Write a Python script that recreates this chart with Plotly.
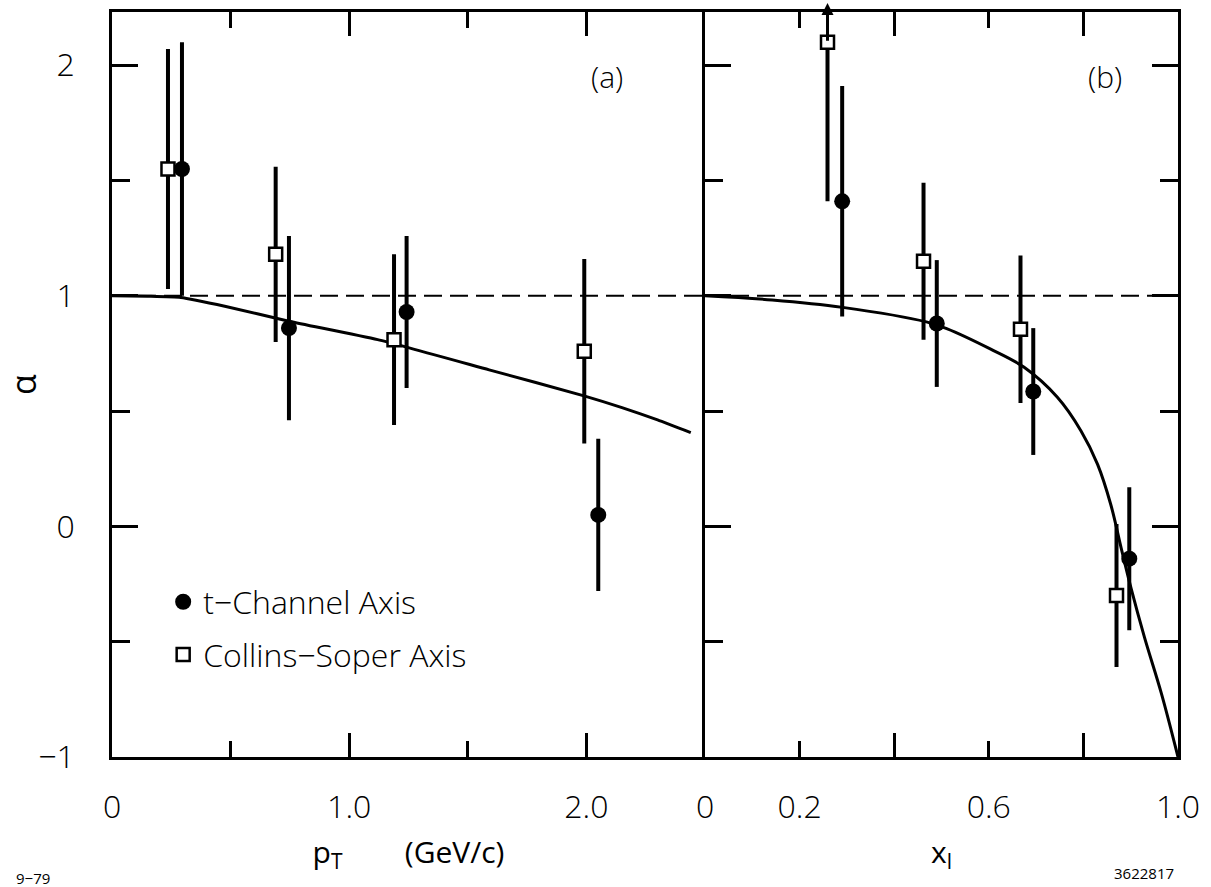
import plotly.graph_objects as go

# Panel (a): alpha versus p_T
pt_tch = [0.295, 0.746, 1.242, 2.050]
alpha_pt_tch = [1.55, 0.86, 0.93, 0.05]
err_pt_tch = [0.55, 0.40, 0.33, 0.33]

pt_cs = [0.236, 0.690, 1.189, 1.991]
alpha_pt_cs = [1.55, 1.18, 0.81, 0.76]
err_pt_cs = [0.52, 0.38, 0.37, 0.40]

# Panel (b): alpha versus x_1
x1_tch = [0.290, 0.490, 0.694, 0.897]
alpha_x1_tch = [1.41, 0.88, 0.585, -0.14]
err_x1_tch = [0.50, 0.275, 0.275, 0.31]

x1_cs = [0.259, 0.462, 0.667, 0.870]
alpha_x1_cs = [2.10, 1.15, 0.855, -0.30]
err_x1_cs_up = [0.0, 0.34, 0.32, 0.31]
err_x1_cs_down = [0.69, 0.34, 0.32, 0.31]
x1_cs_arrow_tip = 2.27  # upper error of the first point runs off scale

# Model predictions
pt_curve = [0.0, 0.15, 0.29, 0.48, 0.75, 1.12, 1.59, 1.99, 2.15, 2.30, 2.44]
alpha_pt_curve = [1.0, 0.998, 0.993, 0.954, 0.889, 0.81, 0.679, 0.566, 0.515, 0.462, 0.407]
x1_curve = [0.0, 0.142, 0.291, 0.468, 0.511, 0.603, 0.674, 0.745, 0.795,
            0.830, 0.858, 0.880, 0.901, 0.929, 0.965, 1.0]
alpha_x1_curve = [1.0, 0.982, 0.950, 0.887, 0.858, 0.770, 0.691, 0.560, 0.414,
                  0.269, 0.094, -0.095, -0.270, -0.480, -0.725, -1.0]

alpha_ref = 1.0
pt_range = [0.0, 2.5]
x1_range = [0.0, 1.0]
alpha_range = [-1.0, 2.231]

pt_ticks = [0, 1, 2]
pt_ticktext = ["0", "1.0", "2.0"]
x1_ticks = [0, 0.2, 0.6, 1.0]
x1_ticktext = ["0", "0.2", "0.6", "1.0"]
x1_long_ticks = [0.4, 0.8]
alpha_ticks = [-1, 0, 1, 2]
alpha_ticktext = ["\u22121", "0", "1", "2"]

FONT = "Open Sans"
INK = "black"

fig = go.Figure()

circle = dict(symbol="circle", size=16, color=INK)
square = dict(symbol="square", size=13, color="white", line=dict(color=INK, width=2.5))
err_style = dict(type="data", color=INK, thickness=4, width=0)

# reference line alpha = 1
for xr, xa, ya in [(pt_range, "x", "y"), (x1_range, "x2", "y2")]:
    fig.add_trace(go.Scatter(x=xr, y=[alpha_ref, alpha_ref], mode="lines",
                             line=dict(color=INK, width=2, dash="18px,8px"),
                             showlegend=False, hoverinfo="skip", xaxis=xa, yaxis=ya))

# model curves
fig.add_trace(go.Scatter(x=pt_curve, y=alpha_pt_curve, mode="lines",
                         line=dict(color=INK, width=3, shape="spline", smoothing=0.5),
                         showlegend=False, xaxis="x", yaxis="y"))
fig.add_trace(go.Scatter(x=x1_curve, y=alpha_x1_curve, mode="lines",
                         line=dict(color=INK, width=3, shape="spline", smoothing=1.0),
                         showlegend=False, xaxis="x2", yaxis="y2"))

# data, panel (a)
fig.add_trace(go.Scatter(x=pt_tch, y=alpha_pt_tch, mode="markers", name="t\u2212Channel Axis",
                         marker=circle, error_y=dict(array=err_pt_tch, **err_style),
                         legendgroup="t", xaxis="x", yaxis="y"))
fig.add_trace(go.Scatter(x=pt_cs, y=alpha_pt_cs, mode="markers", name="Collins\u2212Soper Axis",
                         marker=square, error_y=dict(array=err_pt_cs, **err_style),
                         legendgroup="cs", xaxis="x", yaxis="y"))

# data, panel (b)
fig.add_trace(go.Scatter(x=x1_tch, y=alpha_x1_tch, mode="markers", showlegend=False,
                         marker=circle, error_y=dict(array=err_x1_tch, **err_style),
                         legendgroup="t", xaxis="x2", yaxis="y2"))
fig.add_trace(go.Scatter(x=x1_cs, y=alpha_x1_cs, mode="markers", showlegend=False,
                         marker=square,
                         error_y=dict(array=err_x1_cs_up, arrayminus=err_x1_cs_down,
                                      symmetric=False, **err_style),
                         legendgroup="cs", xaxis="x2", yaxis="y2"))

split = (705 - 112) / (1178 - 112)

axis_common = dict(showline=True, linewidth=2.5, linecolor=INK, showgrid=False,
                   zeroline=False, ticks="inside", tickwidth=2.5, tickcolor=INK,
                   automargin=False,
                   tickfont=dict(family=FONT, size=32, color=INK, weight=300))
minor_common = dict(ticks="inside", tickwidth=2.5, tickcolor=INK)

fig.update_layout(
    width=1211, height=887,
    margin=dict(l=112, r=33, t=12, b=130),
    paper_bgcolor="white", plot_bgcolor="white",
    xaxis=dict(domain=[0, split], range=pt_range, anchor="y", mirror="ticks",
               tickmode="array", tickvals=pt_ticks, ticktext=pt_ticktext, ticklen=24,
               minor=dict(dtick=0.5, tick0=0, ticklen=16, **minor_common),
               ticklabelstandoff=20,
               title=dict(text="p<sub>T</sub>" + "\u00a0" * 8 + "(GeV/c)",
                          font=dict(family=FONT, size=30, color=INK), standoff=16),
               **axis_common),
    xaxis2=dict(domain=[split, 1], range=x1_range, anchor="y2", mirror="ticks",
                tickmode="array", tickvals=x1_ticks, ticktext=x1_ticktext, ticklen=16,
                minor=dict(tickmode="array", tickvals=x1_long_ticks, ticklen=24,
                           **minor_common),
                ticklabelstandoff=20,
                title=dict(text="x<sub>l</sub>",
                           font=dict(family=FONT, size=30, color=INK), standoff=16),
                **axis_common),
    yaxis=dict(domain=[0, 1], range=alpha_range, anchor="x", mirror=False,
               tickmode="array", tickvals=alpha_ticks, ticktext=alpha_ticktext,
               ticklen=26,
               minor=dict(dtick=0.5, tick0=0, ticklen=18, **minor_common),
               ticklabelstandoff=28,
               title=dict(text="\u03b1", font=dict(family=FONT, size=34, color=INK), standoff=24),
               **axis_common),
    yaxis2=dict(domain=[0, 1], range=alpha_range, anchor="x2", matches="y",
                mirror="ticks", showticklabels=False,
                tickmode="array", tickvals=alpha_ticks, ticklen=26,
                minor=dict(dtick=0.5, tick0=0, ticklen=18, **minor_common),
                **axis_common),
    legend=dict(x=0.048, y=0.245, xanchor="left", yanchor="top",
                font=dict(family=FONT, size=32, color=INK, weight=300),
                bgcolor="rgba(0,0,0,0)", traceorder="grouped", tracegroupgap=8),
    showlegend=True,
)

# upward arrow: first Collins-Soper point of panel (b) is off scale
fig.add_annotation(x=x1_cs[0], y=x1_cs_arrow_tip, ax=x1_cs[0], ay=alpha_x1_cs[0],
                   xref="x2", yref="y2", axref="x2", ayref="y2", text="",
                   showarrow=True, arrowhead=2, arrowsize=0.8, arrowwidth=3, arrowcolor=INK)

label_font = dict(family=FONT, size=30, color=INK, weight=300)
for txt, px, py in [("(a)", 0.464, 0.914), ("(b)", 0.9315, 0.914)]:
    fig.add_annotation(text=txt, x=px, y=py, xref="paper", yref="paper",
                       xanchor="center", yanchor="middle", showarrow=False, font=label_font)
fig.add_annotation(text="9\u221279", x=-0.074, y=-0.162, xref="paper", yref="paper",
                   xanchor="center", yanchor="middle", showarrow=False,
                   font=dict(family=FONT, size=15, color=INK))
fig.add_annotation(text="3622817", x=0.968, y=-0.156, xref="paper", yref="paper",
                   xanchor="center", yanchor="middle", showarrow=False,
                   font=dict(family=FONT, size=15, color=INK))

fig.write_html("out.html")
